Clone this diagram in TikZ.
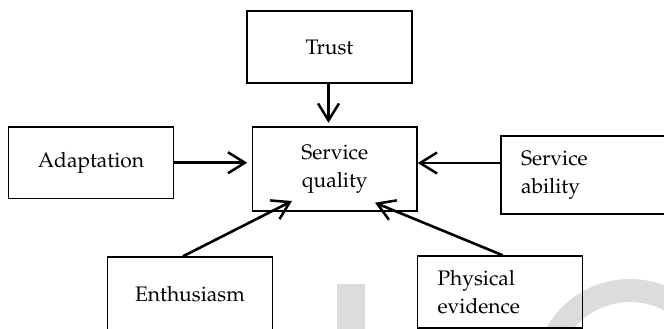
\documentclass[tikz,border=0pt]{standalone}
\usepackage[T1]{fontenc}
\renewcommand{\rmdefault}{ppl}
\usetikzlibrary{arrows.meta,calc}

\definecolor{wmgray}{RGB}{220,220,220}

\tikzset{
  box/.style={draw=black, line width=1.4pt, inner sep=0pt, align=center,
    font=\fontsize{21}{28.5}\selectfont},
  lbox/.style={box, align=left, inner xsep=20pt},
  link/.style={line width=2.6pt, line cap=butt,
    -{Straight Barb[length=17pt, width=21pt, line width=2.5pt]}},
}

\begin{document}
\begin{tikzpicture}[x=1pt, y=-1pt]
  \useasboundingbox (0,0) rectangle (664,329);
  \clip (0,0) rectangle (664,329);

  % faint background lettering
  \fill[wmgray] (337,284) rectangle (365,335);
  \fill[wmgray, even odd rule] (630,375) circle[radius=96] (630,375) circle[radius=73];

  % boxes
  \node[box, minimum width=165pt, minimum height=72pt] (trust) at (329.5,47) {Trust};
  \node[box, minimum width=164.5pt, minimum height=84pt] (sq) at (334.75,169) {Service\\quality};
  \node[box, minimum width=165pt, minimum height=71.5pt] (adapt) at (91,162.75) {Adaptation};
  \node[lbox, text width=125pt, minimum height=78pt] (sa) at (583.5,175) {Service\\ability};
  \node[box, minimum width=165pt, minimum height=74pt] (enth) at (190,294) {Enthusiasm};
  \node[lbox, text width=125pt, minimum height=72pt] (pe) at (500,292) {Physical\\evidence};

  % arrow anchor points
  \coordinate (trOut) at ([xshift=-1pt]trust.south);
  \coordinate (saOut) at ([yshift=12pt]sa.west);
  \coordinate (enOut) at ([xshift=-7pt]enth.north);
  \coordinate (enIn) at (292,201);
  \coordinate (peOut) at ([xshift=2.7pt]pe.north);
  \coordinate (peIn) at (375,202.7);

  % connectors
  \draw[link, shorten >=3.5pt] (trOut) -- (trOut |- sq.north);
  \draw[link, shorten >=4.5pt] (adapt.east) -- (adapt.east -| sq.west);
  \draw[link] (saOut) -- (saOut -| sq.east);
  \draw[link] (enOut) -- (enIn);
  \draw[link] (peOut) -- (peIn);
\end{tikzpicture}
\end{document}
